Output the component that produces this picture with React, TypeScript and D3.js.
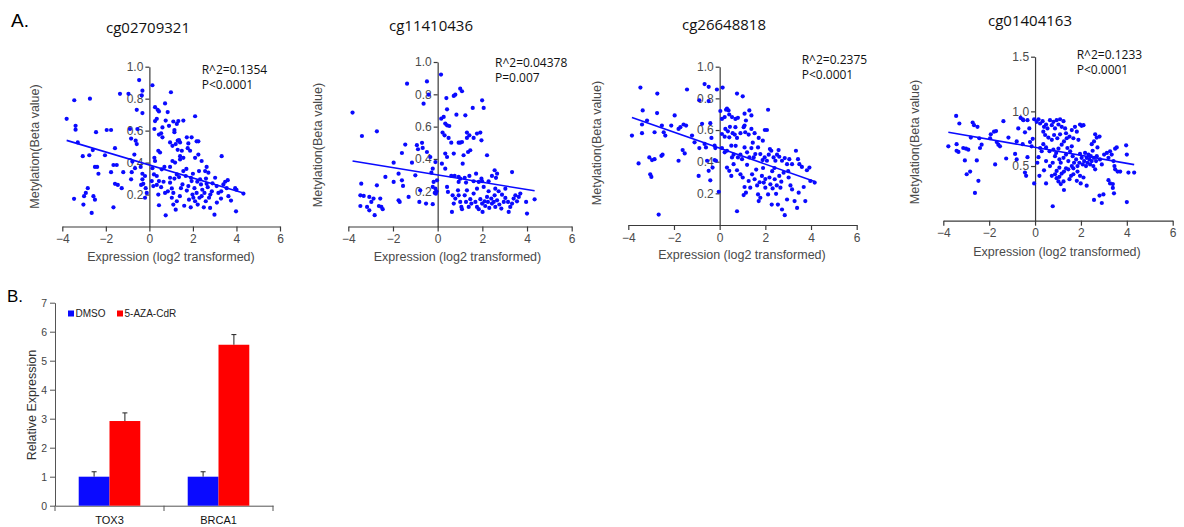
import React, { useRef, useEffect } from "react";
import * as d3 from "d3";

// ---- panel A data ----
const probeIds = ["cg02709321", "cg11410436", "cg26648818", "cg01404163"];
const rSquaredLabels = ["R^2=0.1354", "R^2=0.04378", "R^2=0.2375", "R^2=0.1233"];
const pValueLabels = ["P<0.0001", "P=0.007", "P<0.0001", "P<0.0001"];
// linear fit per probe: [slope, intercept]
const fitLines = [
  [-0.0405, 0.385],
  [-0.0226, 0.301],
  [-0.0504, 0.485],
  [-0.0366, 0.671],
];
const expressionTicks = [-4, -2, 0, 2, 4, 6];
const betaTicks = [
  [0.2, 0.4, 0.6, 0.8, 1.0],
  [0.2, 0.4, 0.6, 0.8, 1.0],
  [0.2, 0.4, 0.6, 0.8, 1.0],
  [0.5, 1.0, 1.5],
];
const betaDomains = [
  [0, 1],
  [-0.018, 1],
  [0, 1],
  [0, 1.5],
];

// [expression, beta]
const cg02709321 = [
  [-3.8, 0.674], [-3.45, 0.79], [-3.39, 0.63], [-3.39, 0.606], [-3.29, 0.526], [-2.73, 0.8], [-3.06, 0.44],
  [-2.76, 0.446], [-2.6, 0.478], [-2.45, 0.59], [-2.5, 0.373], [-2.4, 0.373], [-2.34, 0.33], [-2.83, 0.24],
  [-2.92, 0.21], [-3.0, 0.19], [-3.46, 0.173], [-3.03, 0.137], [-2.65, 0.085], [-2.57, 0.19], [-2.5, 0.168],
  [-2.04, 0.446], [-1.96, 0.604], [-1.76, 0.604], [-1.58, 0.49], [-1.65, 0.385], [-1.5, 0.385], [-1.76, 0.34],
  [-1.58, 0.267], [-1.45, 0.26], [-1.65, 0.12], [-1.35, 0.83], [-1.27, 0.24], [-1.2, 0.34], [-0.96, 0.83],
  [-0.47, 0.916], [-0.32, 0.85], [-0.58, 0.73], [-0.32, 0.71], [-0.84, 0.55], [-0.63, 0.537], [-0.58, 0.516],
  [-0.69, 0.45], [-0.78, 0.406], [-0.81, 0.34], [-0.84, 0.295], [-0.4, 0.373], [-0.32, 0.33], [-0.32, 0.295],
  [-0.2, 0.316], [-0.28, 0.267], [-0.38, 0.26], [-0.17, 0.24], [-0.12, 0.21], [-0.2, 0.18], [-0.66, 0.365],
  [-0.89, 0.61], [-0.55, 0.61], [-0.35, 0.82], [0.14, 0.884],
  [0.23, 0.61], [0.26, 0.66], [0.34, 0.674], [0.38, 0.73], [0.44, 0.72], [0.44, 0.575], [0.54, 0.583],
  [0.6, 0.558], [0.72, 0.77], [0.75, 0.663], [0.84, 0.716], [0.99, 0.84], [1.1, 0.657], [1.15, 0.604],
  [1.21, 0.516], [1.26, 0.642], [1.33, 0.66], [1.3, 0.537], [1.36, 0.541], [1.56, 0.663], [1.49, 0.474],
  [1.72, 0.558], [1.94, 0.558], [2.1, 0.69], [2.17, 0.533], [2.25, 0.533], [1.87, 0.474], [1.41, 0.44],
  [1.41, 0.42], [1.56, 0.43], [1.06, 0.505], [1.06, 0.41], [1.18, 0.4], [0.95, 0.373], [0.69, 0.373],
  [0.57, 0.358], [0.23, 0.43], [0.26, 0.41], [0.41, 0.474], [0.49, 0.463], [0.14, 0.365], [0.21, 0.326],
  [0.34, 0.316], [0.11, 0.284], [0.18, 0.253], [0.34, 0.26], [0.44, 0.284], [0.54, 0.246], [0.41, 0.2],
  [0.72, 0.21], [0.44, 0.133], [0.75, 0.07], [0.95, 0.305], [0.95, 0.274], [1.03, 0.238], [1.1, 0.21],
  [1.03, 0.18], [1.1, 0.137], [1.21, 0.105], [1.26, 0.158], [1.26, 0.326], [1.36, 0.309], [1.45, 0.24],
  [1.52, 0.263], [1.56, 0.347], [1.67, 0.316], [1.72, 0.225], [1.79, 0.253], [1.82, 0.168], [1.91, 0.305],
  [1.94, 0.284], [1.98, 0.2], [2.02, 0.18], [2.07, 0.24], [2.1, 0.158], [2.17, 0.21], [2.22, 0.137],
  [2.28, 0.347], [2.33, 0.295], [2.37, 0.263], [2.4, 0.19], [2.43, 0.23], [2.53, 0.21], [2.56, 0.347],
  [2.59, 0.158], [2.63, 0.267], [2.68, 0.246], [2.71, 0.337], [2.74, 0.18], [2.79, 0.116], [2.87, 0.22],
  [2.99, 0.074], [3.02, 0.305], [3.09, 0.253], [3.17, 0.21], [3.29, 0.175], [3.32, 0.44], [3.4, 0.263],
  [3.48, 0.28], [3.55, 0.24], [3.63, 0.19], [3.75, 0.162], [3.94, 0.24], [3.98, 0.095], [4.32, 0.206],
  [4.0, 0.23], [0.26, 0.747], [0.95, 0.526], [1.15, 0.59], [1.41, 0.526], [1.76, 0.49], [1.79, 0.52],
  [2.1, 0.43], [2.4, 0.41], [2.25, 0.45], [2.63, 0.373],
  [0.6, 0.62], [0.9, 0.63], [1.3, 0.48], [1.7, 0.36], [2.0, 0.33], [2.3, 0.18], [2.5, 0.12], [2.9, 0.27],
  [3.1, 0.15], [3.6, 0.29], [1.6, 0.13], [1.9, 0.12], [2.6, 0.3], [2.2, 0.28], [1.4, 0.19], [1.15, 0.3],
  [0.85, 0.22], [0.65, 0.28], [3.3, 0.22], [2.8, 0.2],
];

const cg11410436 = [
  [-3.81, 0.687], [-3.39, 0.542], [-2.72, 0.571], [-3.42, 0.247], [-3.46, 0.175], [-3.31, 0.171], [-3.46, 0.109],
  [-3.16, 0.103], [-3.06, 0.165], [-2.97, 0.134], [-3.06, 0.082], [-2.82, 0.052], [-2.87, 0.155], [-2.72, 0.237],
  [-2.57, 0.155], [-2.52, 0.103], [-2.46, 0.089], [-2.63, 0.109], [-2.34, 0.289], [-1.97, 0.258], [-1.97, 0.377],
  [-1.75, 0.309], [-1.75, 0.144], [-1.7, 0.134], [-1.6, 0.268], [-1.55, 0.233], [-1.6, 0.437], [-1.45, 0.489],
  [-1.37, 0.866], [-1.3, 0.165], [-1.15, 0.377], [-1.0, 0.299], [-0.93, 0.485], [-0.88, 0.46], [-0.82, 0.134],
  [-0.78, 0.206], [-0.7, 0.5], [-0.63, 0.742], [-0.67, 0.468], [-0.48, 0.88], [-0.48, 0.443], [-0.52, 0.124],
  [-0.4, 0.798], [-0.33, 0.412], [-0.22, 0.227], [-0.22, 0.34], [-0.28, 0.315], [-0.18, 0.258], [-0.22, 0.12],
  [-0.1, 0.216], [-0.07, 0.196], [-0.13, 0.19], [-0.03, 0.268], [-0.1, 0.381], [-0.05, 0.2], [-0.08, 0.185],
  [0.15, 0.922], [0.16, 0.649], [0.27, 0.66], [0.34, 0.619], [0.42, 0.608], [0.52, 0.604], [0.39, 0.777],
  [0.42, 0.707], [0.22, 0.563], [0.31, 0.546], [0.49, 0.53], [0.61, 0.501], [0.72, 0.433], [0.34, 0.433],
  [0.42, 0.412], [0.19, 0.371], [0.34, 0.34], [0.72, 0.79], [0.79, 0.798], [0.84, 0.674], [0.94, 0.501],
  [1.01, 0.501], [1.09, 0.505], [1.01, 0.835], [1.09, 0.819], [1.24, 0.67], [1.31, 0.563], [1.31, 0.53],
  [1.42, 0.546], [1.36, 0.443], [1.46, 0.454], [1.57, 0.716], [1.61, 0.53], [1.76, 0.557], [1.91, 0.563],
  [1.96, 0.515], [1.99, 0.763], [2.06, 0.716], [2.21, 0.423], [1.16, 0.423], [1.12, 0.371], [0.61, 0.295],
  [0.76, 0.295], [0.94, 0.289], [0.94, 0.258], [1.01, 0.278], [1.21, 0.283], [1.27, 0.254], [1.42, 0.295],
  [1.61, 0.262], [1.72, 0.309], [1.84, 0.258], [1.96, 0.278], [1.99, 0.262], [2.06, 0.227], [2.28, 0.262],
  [2.43, 0.295], [2.55, 0.33], [2.61, 0.283], [2.66, 0.309], [3.33, 0.319],
  [0.42, 0.227], [0.46, 0.196], [0.67, 0.175], [0.79, 0.155], [0.72, 0.124], [0.64, 0.072], [0.91, 0.206],
  [1.01, 0.134], [1.06, 0.103], [1.09, 0.089], [1.21, 0.175], [1.27, 0.134], [1.39, 0.103], [1.46, 0.151],
  [1.51, 0.124], [1.61, 0.186], [1.69, 0.134], [1.76, 0.103], [1.84, 0.089], [1.91, 0.151], [1.99, 0.124],
  [2.01, 0.072], [2.1, 0.138], [2.13, 0.109], [2.21, 0.165], [2.25, 0.134], [2.31, 0.097], [2.4, 0.155],
  [2.43, 0.124], [2.51, 0.134], [2.55, 0.175], [2.58, 0.103], [2.66, 0.144], [2.73, 0.2], [2.76, 0.118],
  [2.85, 0.093], [2.96, 0.134], [3.03, 0.159], [3.15, 0.134], [3.18, 0.072], [3.25, 0.103], [3.33, 0.124],
  [3.4, 0.155], [3.48, 0.175], [3.55, 0.138], [3.63, 0.165], [3.7, 0.186], [3.96, 0.134], [4.0, 0.062],
  [4.34, 0.15], [2.28, 0.2], [1.76, 0.216], [1.31, 0.206], [0.94, 0.175], [2.88, 0.179], [2.58, 0.216],
  [3.03, 0.216],
];

const cg26648818 = [
  [-3.84, 0.565], [-3.47, 0.868], [-3.55, 0.389], [-3.4, 0.635], [-3.37, 0.724], [-3.4, 0.58], [-3.18, 0.66],
  [-3.08, 0.427], [-2.96, 0.41], [-3.04, 0.32], [-2.99, 0.304], [-2.85, 0.416], [-2.73, 0.83], [-2.74, 0.707],
  [-2.67, 0.066], [-2.55, 0.437], [-2.5, 0.444], [-2.53, 0.628], [-2.45, 0.586], [-2.85, 0.586], [-2.38, 0.565],
  [-2.12, 0.628], [-1.97, 0.692], [-1.8, 0.607], [-1.72, 0.618], [-1.58, 0.635], [-1.47, 0.628], [-1.8, 0.406],
  [-1.62, 0.473], [-1.53, 0.452], [-1.43, 0.856], [-1.21, 0.565], [-1.1, 0.522], [-0.89, 0.788], [-0.89, 0.486],
  [-0.92, 0.31], [-0.77, 0.639], [-0.66, 0.89], [-0.66, 0.512], [-0.6, 0.49], [-0.55, 0.406], [-0.48, 0.873],
  [-0.41, 0.643], [-0.36, 0.55], [-0.31, 0.363], [-0.22, 0.501], [-0.19, 0.486], [-0.12, 0.856], [-0.48, 0.342],
  [-0.41, 0.282], [-0.22, 0.41], [-0.16, 0.406], [-0.04, 0.21], [0.13, 0.868], [-0.48, 0.783],
  [0.03, 0.72], [0.1, 0.67], [0.22, 0.682], [0.28, 0.728], [0.32, 0.735], [0.39, 0.724], [0.42, 0.698],
  [0.54, 0.682], [0.69, 0.67], [0.8, 0.677], [0.76, 0.83], [1.01, 0.813], [1.09, 0.703], [1.3, 0.724],
  [1.39, 0.692], [2.12, 0.728], [0.1, 0.575], [0.22, 0.558], [0.25, 0.607], [0.36, 0.592], [0.42, 0.554],
  [0.57, 0.58], [0.66, 0.571], [0.69, 0.618], [0.76, 0.55], [0.91, 0.58], [1.05, 0.618], [1.09, 0.628],
  [1.12, 0.586], [1.27, 0.571], [1.39, 0.607], [1.53, 0.58], [1.71, 0.55], [1.98, 0.6], [2.07, 0.6],
  [1.89, 0.533], [0.1, 0.486], [0.22, 0.459], [0.32, 0.469], [0.51, 0.501], [0.54, 0.427], [0.61, 0.444],
  [0.8, 0.427], [0.91, 0.444], [0.98, 0.416], [1.09, 0.49], [1.2, 0.459], [1.3, 0.427], [1.39, 0.486],
  [1.49, 0.427], [1.56, 0.448], [1.68, 0.49], [1.78, 0.448], [1.88, 0.41], [1.97, 0.427], [2.07, 0.406],
  [2.15, 0.444], [2.26, 0.469], [2.36, 0.427], [2.44, 0.406], [2.51, 0.444], [2.58, 0.473], [2.61, 0.431],
  [2.73, 0.406], [2.85, 0.423], [2.95, 0.384], [3.05, 0.416], [3.17, 0.384], [3.34, 0.469], [3.43, 0.416],
  [3.49, 0.384], [3.6, 0.367], [3.82, 0.346], [3.93, 0.363], [3.97, 0.278], [4.16, 0.268], [0.32, 0.363],
  [0.42, 0.342], [0.51, 0.31], [0.61, 0.384], [0.76, 0.346], [0.91, 0.32], [1.01, 0.3], [1.09, 0.24],
  [1.15, 0.204], [1.27, 0.278], [1.34, 0.236], [1.42, 0.32], [1.53, 0.289], [1.64, 0.25], [1.68, 0.193],
  [1.78, 0.172], [1.85, 0.31], [1.93, 0.268], [2.0, 0.236], [2.12, 0.193], [2.18, 0.3], [2.22, 0.257],
  [2.32, 0.231], [2.41, 0.289], [2.47, 0.197], [2.55, 0.129], [2.61, 0.31], [2.7, 0.274], [2.73, 0.098],
  [2.85, 0.062], [2.95, 0.161], [3.02, 0.3], [3.1, 0.25], [3.17, 0.225], [3.28, 0.151], [3.39, 0.108],
  [3.46, 0.204], [3.68, 0.24], [3.75, 0.151], [0.76, 0.087], [2.28, 0.129], [1.71, 0.151], [1.05, 0.189],
  [2.66, 0.236],
  [1.6, 0.35], [1.9, 0.36], [2.3, 0.34], [2.0, 0.29], [2.5, 0.25], [2.8, 0.33], [1.2, 0.38], [0.7, 0.5],
  [1.45, 0.52], [2.2, 0.48], [3.0, 0.34], [1.75, 0.27], [2.4, 0.36], [0.45, 0.62], [1.15, 0.66],
];

const cg01404163 = [
  [-3.78, 0.68], [-3.44, 0.958], [-3.42, 0.7], [-3.42, 0.64], [-3.3, 0.889], [-3.34, 0.629], [-3.13, 0.665],
  [-3.01, 0.659], [-2.91, 0.65], [-3.06, 0.551], [-2.98, 0.425], [-2.83, 0.449], [-2.72, 0.898], [-2.66, 0.874],
  [-2.51, 0.859], [-2.54, 0.551], [-2.8, 0.76], [-2.43, 0.754], [-2.4, 0.665], [-2.33, 0.695], [-2.47, 0.365],
  [-2.62, 0.254], [-1.96, 0.754], [-1.93, 0.79], [-1.79, 0.814], [-1.7, 0.82], [-1.67, 0.719], [-1.6, 0.695],
  [-1.53, 0.68], [-1.74, 0.515], [-1.38, 0.91], [-1.26, 0.569], [-1.16, 0.76], [-0.87, 0.611], [-0.8, 0.725],
  [-0.73, 0.844], [-0.63, 0.94], [-0.54, 0.928], [-0.44, 0.808], [-0.51, 0.919], [-0.33, 0.919], [-0.39, 0.41],
  [-0.44, 0.44], [-0.25, 0.844], [-0.15, 0.68], [-0.22, 0.719], [-0.1, 0.749], [-0.33, 0.581], [-0.54, 0.7],
  [-0.04, 0.341], [-0.04, 0.928], [-0.8, 0.56],
  [0.07, 0.904], [0.15, 0.928], [0.22, 0.889], [0.33, 0.91], [0.39, 0.859], [0.48, 0.88], [0.54, 0.844],
  [0.36, 0.814], [0.44, 0.784], [0.58, 0.76], [0.65, 0.919], [0.73, 0.874], [0.8, 0.904], [0.87, 0.844],
  [0.94, 0.919], [1.02, 0.88], [1.09, 0.928], [1.16, 0.859], [1.24, 0.91], [1.31, 0.844], [1.35, 0.8],
  [0.73, 0.74], [0.83, 0.784], [0.97, 0.754], [1.09, 0.79], [1.16, 0.695], [1.26, 0.725], [1.38, 0.754],
  [1.5, 0.769], [1.6, 0.829], [1.67, 0.754], [1.74, 0.859], [1.82, 0.814], [1.96, 0.88], [2.03, 0.868],
  [2.11, 0.874], [1.89, 0.74], [1.6, 0.68], [1.41, 0.665], [1.02, 0.659], [0.92, 0.62], [0.8, 0.65],
  [0.36, 0.7], [0.22, 0.665], [0.15, 0.581], [0.29, 0.635], [0.48, 0.67], [0.63, 0.635], [0.87, 0.59],
  [1.06, 0.56], [1.12, 0.53], [1.24, 0.575], [1.35, 0.605], [1.45, 0.545], [1.53, 0.635], [1.64, 0.59],
  [1.7, 0.53], [1.79, 0.56], [1.85, 0.5], [1.93, 0.53], [1.96, 0.611], [2.03, 0.575], [2.08, 0.515],
  [2.14, 0.545], [2.18, 0.62], [2.22, 0.5], [2.25, 0.575], [2.28, 0.53], [2.33, 0.605], [2.37, 0.56],
  [2.4, 0.515], [2.43, 0.59], [2.47, 0.545], [2.51, 0.64], [2.54, 0.5], [2.57, 0.575], [2.62, 0.47],
  [2.66, 0.545], [2.69, 0.59], [2.62, 0.79], [2.69, 0.76], [2.81, 0.769], [2.47, 0.7], [2.57, 0.725],
  [2.72, 0.67], [2.83, 0.56], [2.91, 0.515], [3.01, 0.605], [3.13, 0.62], [3.2, 0.575], [3.27, 0.635],
  [3.34, 0.605], [3.42, 0.545], [3.49, 0.659], [3.56, 0.67], [3.46, 0.5], [3.49, 0.47], [3.6, 0.449],
  [3.71, 0.449], [3.97, 0.689], [4.0, 0.605], [4.07, 0.44], [4.0, 0.17], [3.2, 0.371], [3.27, 0.341],
  [3.39, 0.3], [3.44, 0.25], [3.39, 0.335], [2.98, 0.24], [2.91, 0.162], [2.81, 0.23], [2.57, 0.19],
  [2.25, 0.32], [2.11, 0.395], [1.96, 0.41], [1.85, 0.449], [1.67, 0.425], [1.57, 0.41], [1.45, 0.47],
  [1.26, 0.449], [1.16, 0.431], [1.06, 0.485], [0.94, 0.455], [0.87, 0.425], [0.94, 0.389], [1.02, 0.359],
  [1.12, 0.335], [1.26, 0.281], [1.06, 0.401], [0.77, 0.53], [0.65, 0.5], [0.48, 0.545], [0.39, 0.461],
  [0.19, 0.41], [0.1, 0.53], [0.48, 0.341], [0.73, 0.41], [0.77, 0.132], [1.24, 0.359], [1.5, 0.38],
  [1.82, 0.365], [1.99, 0.341], [1.67, 0.479], [1.6, 0.5], [1.35, 0.479], [4.32, 0.44],
];

const probePoints = [cg02709321, cg11410436, cg26648818, cg01404163];

// ---- panel B data ----
const genes = ["TOX3", "BRCA1"];
const treatments = ["DMSO", "5-AZA-CdR"];
const dmsoExpression = [1.0, 1.0];
const dmsoError = [0.17, 0.17];
const azaExpression = [2.92, 5.55];
const azaError = [0.28, 0.35];
const expressionAxisTicks = [0, 1, 2, 3, 4, 5, 6, 7];

// ---- layout ----
const scatterLayout = [
  { x0: 62.3, x1: 280, yTop: 66.7, yBottom: 226.5, title: [148, 33], stats: [201.7, 74], xLab: [171, 261], yLab: [35, 146.5] },
  { x0: 348.3, x1: 571.7, yTop: 62, yBottom: 226.5, title: [431, 31], stats: [495, 67], xLab: [457.5, 261], yLab: [318, 145] },
  { x0: 628.3, x1: 856.7, yTop: 66.7, yBottom: 225, title: [724, 30], stats: [801.7, 64], xLab: [742, 259], yLab: [597, 143] },
  { x0: 943.3, x1: 1172.7, yTop: 56.7, yBottom: 220.7, title: [1030, 26], stats: [1076.7, 59], xLab: [1057, 256], yLab: [915, 142] },
];

const BLUE = "#0a0aff";
const AXIS = "#3a3a3a";
const ARIAL = "'Liberation Sans', Arial, sans-serif";
const CALIBRI = "'Open Sans', 'Noto Sans', sans-serif";

const App = () => {
  const svgRef = useRef<SVGSVGElement>(null);

  useEffect(() => {
    const svg = d3.select(svgRef.current);
    svg.selectAll("*").remove();

    svg.append("text").attr("x", 11).attr("y", 27).attr("font-family", ARIAL)
      .attr("font-size", 19).attr("fill", "#000").text("A.");

    probeIds.forEach((id, i) => {
      const L = scatterLayout[i];
      const pts = probePoints[i];
      const x = d3.scaleLinear().domain([-4, 6]).range([L.x0, L.x1]);
      const y = d3.scaleLinear().domain(betaDomains[i]).range([L.yBottom, L.yTop]);
      const g = svg.append("g");

      // x axis
      const xa = g.append("g")
        .attr("transform", `translate(0, ${L.yBottom})`)
        .call(d3.axisBottom(x).tickValues(expressionTicks).tickFormat(d3.format("d")).tickSize(5).tickSizeOuter(0).tickPadding(3));
      // y axis sits at expression = 0
      const ya = g.append("g")
        .attr("transform", `translate(${x(0)}, 0)`)
        .call(d3.axisLeft(y).tickValues(betaTicks[i]).tickFormat(d3.format(".1f")).tickSize(4).tickSizeOuter(0).tickPadding(2));
      [xa, ya].forEach((a) => {
        a.attr("font-family", ARIAL).attr("font-size", 12);
        a.selectAll("path,line").attr("stroke", AXIS).attr("stroke-width", 1.2);
        a.selectAll("text").attr("fill", "#4a4a4a");
      });

      // points
      g.append("g").selectAll("circle").data(pts).enter().append("circle")
        .attr("cx", (d) => x(d[0]))
        .attr("cy", (d) => y(d[1]))
        .attr("r", 2.1)
        .attr("fill", BLUE);

      // regression line
      const [slope, intercept] = fitLines[i];
      const ext = d3.extent(pts, (d) => d[0]) as [number, number];
      g.append("path")
        .datum(ext)
        .attr("d", d3.line<number>().x((d) => x(d)).y((d) => y(slope * d + intercept)))
        .attr("stroke", BLUE).attr("stroke-width", 1.6).attr("fill", "none");

      g.append("text").attr("x", L.title[0]).attr("y", L.title[1]).attr("text-anchor", "middle")
        .attr("font-family", CALIBRI).attr("font-size", 15).attr("fill", "#111").text(id);
      g.append("text").attr("x", L.stats[0]).attr("y", L.stats[1])
        .attr("font-family", CALIBRI).attr("font-size", 12).attr("fill", "#111").text(rSquaredLabels[i]);
      g.append("text").attr("x", L.stats[0]).attr("y", L.stats[1] + 15)
        .attr("font-family", CALIBRI).attr("font-size", 12).attr("fill", "#111").text(pValueLabels[i]);

      g.append("text").attr("x", L.xLab[0]).attr("y", L.xLab[1]).attr("text-anchor", "middle")
        .attr("font-family", ARIAL).attr("font-size", 12.5).attr("fill", "#4a4a4a")
        .text("Expression (log2 transformed)");
      g.append("text")
        .attr("transform", `translate(${L.yLab[0]}, ${L.yLab[1]}) rotate(-90)`)
        .attr("text-anchor", "middle").attr("dy", "0.35em")
        .attr("font-family", ARIAL).attr("font-size", 12.5).attr("fill", "#4a4a4a")
        .text("Metylation(Beta value)");
    });

    // ---- panel B ----
    svg.append("text").attr("x", 7).attr("y", 302).attr("font-family", ARIAL)
      .attr("font-size", 17).attr("fill", "#000").text("B.");

    const bx = d3.scaleBand().domain(genes).range([55, 273]).padding(0);
    const sub = d3.scaleBand().domain(treatments).range([0, bx.bandwidth()]).paddingOuter(0.77).paddingInner(0);
    const by = d3.scaleLinear().domain([0, 7]).range([505.7, 302.7]);
    const gB = svg.append("g");

    const yAx = gB.append("g").attr("transform", "translate(55,0)")
      .call(d3.axisLeft(by).tickValues(expressionAxisTicks).tickFormat(d3.format("d")).tickSize(5).tickSizeOuter(0).tickPadding(3));
    yAx.attr("font-family", ARIAL).attr("font-size", 10.5);
    yAx.selectAll("path,line").attr("stroke", "#555");
    yAx.selectAll("text").attr("fill", "#444");

    const xAx = gB.append("g").attr("transform", "translate(0,505.7)")
      .call(d3.axisBottom(bx).tickSize(0).tickPadding(11));
    xAx.select(".domain").attr("stroke", "#555");
    xAx.attr("font-family", ARIAL).attr("font-size", 11);
    xAx.selectAll("text").attr("fill", "#111");
    const edges = [...genes.map((gname) => bx(gname) as number), bx.range()[1]];
    gB.append("g").selectAll("line").data(edges).enter().append("line")
      .attr("x1", (d) => d).attr("x2", (d) => d)
      .attr("y1", 505.7).attr("y2", 511)
      .attr("stroke", "#555");

    const series = [
      { name: treatments[0], values: dmsoExpression, errors: dmsoError, color: "#0a0aff" },
      { name: treatments[1], values: azaExpression, errors: azaError, color: "#ff0000" },
    ];
    series.forEach((s) => {
      genes.forEach((gname, j) => {
        const x0 = (bx(gname) as number) + (sub(s.name) as number);
        const w = sub.bandwidth();
        gB.append("rect").attr("x", x0).attr("y", by(s.values[j]))
          .attr("width", w).attr("height", by(0) - by(s.values[j])).attr("fill", s.color);
        const cx = x0 + w / 2;
        const top = by(s.values[j] + s.errors[j]);
        gB.append("line").attr("x1", cx).attr("x2", cx).attr("y1", by(s.values[j])).attr("y2", top)
          .attr("stroke", "#222").attr("stroke-width", 1);
        gB.append("line").attr("x1", cx - 2.5).attr("x2", cx + 2.5).attr("y1", top).attr("y2", top)
          .attr("stroke", "#222").attr("stroke-width", 1);
      });
    });

    // legend
    const leg = gB.append("g");
    const legX = [68, 117];
    series.forEach((s, k) => {
      leg.append("rect").attr("x", legX[k]).attr("y", 310.5).attr("width", 6).attr("height", 6).attr("fill", s.color);
      leg.append("text").attr("x", legX[k] + 7.5).attr("y", 317).attr("font-family", ARIAL)
        .attr("font-size", 10).attr("fill", "#222").text(s.name);
    });

    gB.append("text")
      .attr("transform", "translate(31.7, 405) rotate(-90)")
      .attr("text-anchor", "middle").attr("dy", "0.35em")
      .attr("font-family", ARIAL).attr("font-size", 12.5).attr("fill", "#333")
      .text("Relative Expression");
  }, []);

  return (
    <svg
      ref={svgRef}
      width={1184}
      height={527}
      style={{ position: "absolute", left: 0, top: 0, background: "#fff" }}
    />
  );
};

export default App;
